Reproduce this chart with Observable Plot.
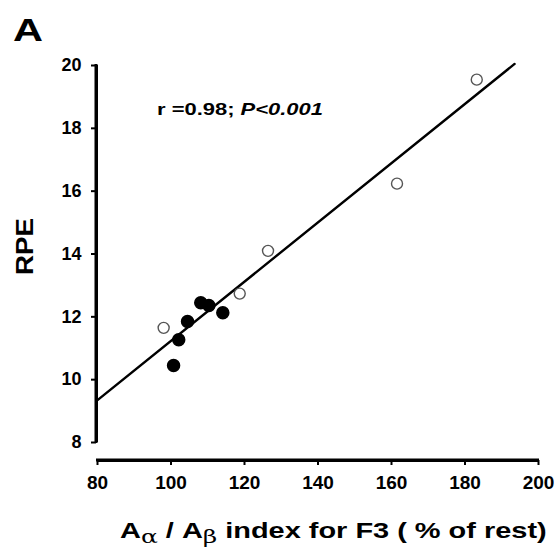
<!DOCTYPE html>
<html><head><meta charset="utf-8">
<script src="https://cdn.jsdelivr.net/npm/d3@7"></script>
<script src="https://cdn.jsdelivr.net/npm/@observablehq/plot@0.6"></script>
<style>body{margin:0;background:#fff}</style>
</head><body><div id="chart"></div>
<script>
const openX = [98, 118.7, 126.4, 161.5, 183.2];
const openY = [11.65, 12.74, 14.1, 16.24, 19.55];
const filledX = [100.7, 102.1, 104.5, 108.1, 110.3, 114.1];
const filledY = [10.45, 11.27, 11.85, 12.45, 12.36, 12.13];
const fitX = [80, 193.5];
const fitY = [9.35, 20.05];
const xTicks = [80, 100, 120, 140, 160, 180, 200];
const yTicks = [8, 10, 12, 14, 16, 18, 20];

const openPts = openX.map((x, i) => ({x, y: openY[i]}));
const filledPts = filledX.map((x, i) => ({x, y: filledY[i]}));
const fitPts = fitX.map((x, i) => ({x, y: fitY[i]}));

const font = "'Liberation Sans', Arial, sans-serif";
const plot = Plot.plot({
  width: 558, height: 553,
  marginLeft: 97, marginRight: 20, marginTop: 65, marginBottom: 111,
  x: {type: "linear", domain: [80, 200]},
  y: {type: "linear", domain: [8, 20]},
  style: {fontFamily: font, fontWeight: "bold", color: "#000", background: "#fff"},
  marks: [
    Plot.ruleX([80], {stroke: "#000", strokeWidth: 3, dx: -1}),
    Plot.ruleY([8], {stroke: "#000", strokeWidth: 3, dy: 18}),
    Plot.axisY({ticks: yTicks, tickSize: 5, tickPadding: 10, strokeWidth: 2, dx: -1, label: null, fontSize: 18, fontWeight: "bold"}),
    Plot.axisX({ticks: xTicks, tickSize: 5, tickPadding: 10, strokeWidth: 2, dy: 18, label: null, fontSize: 19, fontWeight: "bold"}),
    Plot.line(fitPts, {x: "x", y: "y", stroke: "#000", strokeWidth: 2.4}),
    Plot.dot(filledPts, {x: "x", y: "y", r: 6, fill: "#000", stroke: "#000"}),
    Plot.dot(openPts, {x: "x", y: "y", r: 5.5, fill: "#fff", stroke: "#555", strokeWidth: 1.4})
  ]
});
document.getElementById("chart").append(plot);

const svg = d3.select(plot);
// axis lines placed through the plot's own scales
const sx = plot.scale("x"), sy = plot.scale("y");
svg.append("line").attr("x1", sx.apply(80) - 1).attr("x2", sx.apply(80) - 1)
  .attr("y1", sy.apply(20) - 1).attr("y2", sy.apply(8) + 1).attr("stroke", "#000").attr("stroke-width", 3);
svg.append("line").attr("x1", sx.apply(80) - 1).attr("x2", sx.apply(200) + 1)
  .attr("y1", sy.apply(8) + 18).attr("y2", sy.apply(8) + 18).attr("stroke", "#000").attr("stroke-width", 3);

function stretch(sel, x, y, target, rotate) {
  const w = sel.node().getBBox().width;
  const s = target / w;
  sel.attr("x", 0).attr("y", 0).attr("text-anchor", "start")
    .attr("transform", `translate(${x},${y})${rotate ? " rotate(-90)" : ""} scale(${s},1)`);
}
const a = svg.append("text").attr("font-family", font)
  .attr("font-size", 32).attr("font-weight", "bold").text("A");
stretch(a, 13, 41, 30);
const ann = svg.append("text").attr("font-family", font)
  .attr("font-size", 17).attr("font-weight", "bold");
ann.append("tspan").text("r =0.98; ");
ann.append("tspan").attr("font-style", "italic").text("P<0.001");
stretch(ann, 157, 115, 166);
const rpe = svg.append("text").attr("font-family", font).attr("font-size", 24).attr("font-weight", "bold").text("RPE");
stretch(rpe, 33, 275, 57, true);
const xl = svg.append("text").attr("font-family", font).attr("font-size", 22).attr("font-weight", "bold");
xl.append("tspan").text("A");
xl.append("tspan").attr("font-family", "'DejaVu Serif', serif").attr("font-weight", "normal").attr("font-size", 19).attr("dy", 5).text("α");
xl.append("tspan").attr("dy", -5).text(" / A");
xl.append("tspan").attr("font-family", "'DejaVu Serif', serif").attr("font-weight", "normal").attr("font-size", 19).attr("dy", 5).text("β");
xl.append("tspan").attr("dy", -5).text(" index for F3 ( % of rest)");
stretch(xl, 120, 538, 427);
</script></body></html>
